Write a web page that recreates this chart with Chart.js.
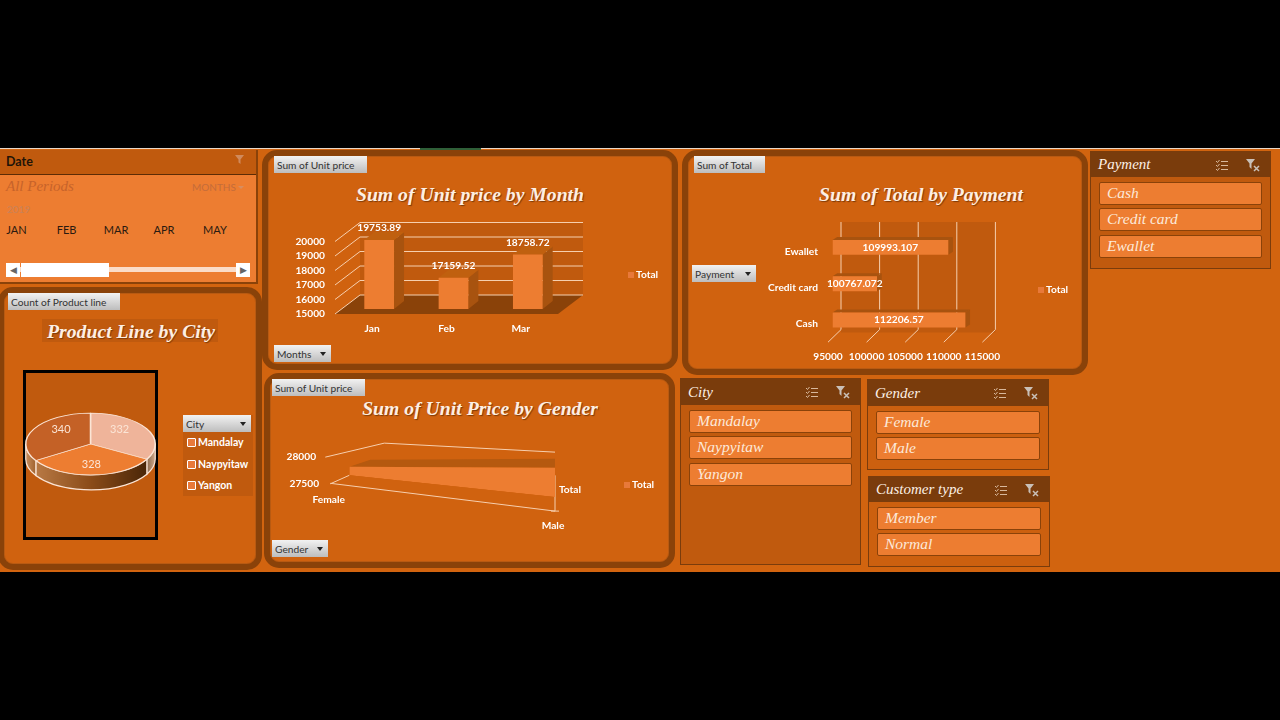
<!DOCTYPE html>
<html>
<head>
<meta charset="utf-8">
<title>Sales dashboard</title>
<script src="https://cdn.jsdelivr.net/npm/chart.js@4"></script>
<style>
html, body { margin: 0; background: #000; }
#sheet { position: absolute; left: 0; top: 0; width: 1280px; height: 720px; background: #000; overflow: hidden; font-family: Lato, sans-serif; }
#zone { position: absolute; left: 0; top: 148px; width: 1280px; height: 424px; background: #D2640F; border-top: 1px solid #e9d8c8; box-sizing: border-box; }
#tab { position: absolute; left: 420px; top: 148px; width: 61px; height: 2px; background: #2f5f38; }
.abs { position: absolute; box-sizing: border-box; }
.panel { position: absolute; box-sizing: border-box; border: 6px solid #8A4209; border-radius: 15px; background: #D0620F; box-shadow: inset 0 0 0 1px #B85A12; }
canvas { position: absolute; }
.btn { position: absolute; box-sizing: border-box; height: 17px; background: linear-gradient(#f2f2f2, #bdbdbd); color: #333; font: 10.2px/18px Lato, sans-serif; padding-left: 3px; white-space: nowrap; }
.btn i { position: absolute; right: 5px; top: 7px; border: 3.5px solid transparent; border-top: 4px solid #222; border-bottom: 0; }
.title { position: absolute; transform: translate(-50%, -50%); font: italic bold 19.7px "Liberation Serif", serif; color: #FDEFE3; white-space: nowrap; text-shadow: 1px 1px 1px #7d3a08; }
.slicer { position: absolute; box-sizing: border-box; border: 1px solid #7A3C0C; background: #C05A0E; }
.slicer .head { position: absolute; left: 0; right: 0; top: 0; background: #7A3C0C; color: #FDF1E6; font: italic 15px "Liberation Serif", serif; padding-left: 7px; }
.slicer .item { position: absolute; box-sizing: border-box; background: #ED7D31; border: 1px solid #8A4209; border-radius: 2px; color: #FCE9DA; font: italic 15.5px "Liberation Serif", serif; padding-left: 7px; }
.slicer svg { position: absolute; top: 6px; }
.legendRow { position: absolute; left: 187px; color: #fff; font: bold 10.5px Lato, sans-serif; white-space: nowrap; }
.legendRow b { display: inline-block; width: 7px; height: 7px; background: #E8793A; border: 1.5px solid #fff; border-radius: 1px; margin-right: 2px; vertical-align: -1px; }
.monthCol { position: absolute; top: 223px; transform: translateX(-50%); color: #2a1a10; font: 11px Lato, sans-serif; }
</style>
</head>
<body>
<div id="sheet">
  <div id="zone"></div>
  <div id="tab"></div>

  <!-- date timeline -->
  <div class="abs" style="left:0;top:150px;width:258px;height:134px;background:#ED7D31;border-right:2px solid #8A4209;border-bottom:2px solid #8A4209">
    <div class="abs" style="left:0;top:0;width:256px;height:25px;background:#C05A0E;border-bottom:1px solid #5c2c06"></div>
    <div class="abs" style="left:6px;top:4px;font:bold 12.5px Lato,sans-serif;color:#1f1408">Date</div>
    <svg class="abs" style="left:233px;top:3px" width="14" height="14" viewBox="0 0 14 14"><path d="M2 2h9L7.5 6.5V11L5.5 9.5V6.5z" fill="#d08a5c"/></svg>
    <div class="abs" style="left:6px;top:28px;font:italic 15px 'Liberation Serif',serif;color:#C7632A">All Periods</div>
    <div class="abs" style="left:192px;top:31px;font:10px Lato,sans-serif;color:#C46C3A">MONTHS</div>
    <div class="abs" style="left:238px;top:36px;border:3px solid transparent;border-top:3px solid #d88d5f;border-bottom:0"></div>
    <div class="abs" style="left:7px;top:53px;font:10px Lato,sans-serif;color:#C98258">2019</div>
    <div class="abs" style="left:6px;top:117px;width:244px;height:5px;background:#FBDCC8"></div>
    <div class="abs" style="left:6px;top:113px;width:14px;height:14px;background:#fff;color:#666;font:9px/14px Lato;text-align:center">&#9664;</div>
    <div class="abs" style="left:21px;top:113px;width:88px;height:14px;background:#fff"></div>
    <div class="abs" style="left:236px;top:113px;width:14px;height:14px;background:#fff;color:#666;font:9px/14px Lato;text-align:center">&#9654;</div>
  </div>
  <div id="monthCols"></div>

  <!-- pivot chart frames -->
  <div class="panel" style="left:-2px;top:287px;width:264px;height:283px"></div>
  <div class="panel" style="left:262px;top:150px;width:416px;height:220px"></div>
  <div class="panel" style="left:264px;top:373px;width:411px;height:195px"></div>
  <div class="panel" style="left:682px;top:150px;width:406px;height:225px"></div>

  <!-- field buttons -->
  <div class="btn" style="left:8px;top:293px;width:112px">Count of Product line</div>
  <div class="btn" style="left:274px;top:156px;width:93px">Sum of Unit price</div>
  <div class="btn" style="left:274px;top:345px;width:57px">Months<i></i></div>
  <div class="btn" style="left:272px;top:379px;width:93px">Sum of Unit price</div>
  <div class="btn" style="left:272px;top:540px;width:56px">Gender<i></i></div>
  <div class="btn" style="left:694px;top:156px;width:71px">Sum of Total</div>
  <div class="btn" style="left:692px;top:265px;width:64px">Payment<i></i></div>

  <!-- chart headings -->
  <div class="abs" style="left:42px;top:319px;width:176px;height:23px;background:#C05A0E"></div>
  <div class="title" style="left:131px;top:331px">Product Line by City</div>
  <div class="title" style="left:470px;top:194px">Sum of Unit price by Month</div>
  <div class="title" style="left:480px;top:408px">Sum of Unit Price by Gender</div>
  <div class="title" style="left:921px;top:194px">Sum of Total by Payment</div>

  <!-- pie frame and city filter -->
  <div class="abs" style="left:23px;top:370px;width:135px;height:170px;background:#C05A0E;border:3px solid #000"></div>
  <div class="abs" style="left:183px;top:415px;width:70px;height:81px;background:#C05A0E"></div>
  <div class="btn" style="left:183px;top:415px;width:68px">City<i></i></div>
  <div id="cityRows"></div>

  <canvas id="pieChart" width="135" height="170" style="left:23px;top:370px"></canvas>
  <canvas id="monthChart" width="400" height="150" style="left:270px;top:200px"></canvas>
  <canvas id="genderChart" width="400" height="110" style="left:268px;top:430px"></canvas>
  <canvas id="paymentChart" width="390" height="155" style="left:690px;top:215px"></canvas>

  <div id="slicers"></div>
</div>

<script>
// values behind the charts
var months = ['Jan', 'Feb', 'Mar'];
var monthTotals = [19753.89, 17159.52, 18758.72];
var payments = ['Ewallet', 'Credit card', 'Cash'];
var paymentTotals = [109993.107, 100767.072, 112206.57];
var genders = ['Female', 'Male'];
var genderTotals = [27650, 28022];
var genderTicks = [27500, 28000];
var cities = ['Mandalay', 'Naypyitaw', 'Yangon'];
var cityCounts = [332, 328, 340];
var periodMonths = ['JAN', 'FEB', 'MAR', 'APR', 'MAY'];
var customerTypes = ['Member', 'Normal'];

var ORANGE = '#ED7D31', SHADE = '#A8530F', WALL = '#C05A0E', FLOOR = '#8A4209', LINE = '#F6CFAF';
var LABEL_FONT = 'bold 10.2px Lato, sans-serif';
var TICK_FONT = { family: 'Lato', weight: 'bold', size: 10.2 };
var plainGrid = { display: false, drawTicks: false };

function plainNumber(v) { return String(v); }

// small square + name, the way the pivot charts show their single series
function drawKey(chart, x, y) {
    var ctx = chart.ctx;
    ctx.save();
    ctx.fillStyle = '#E8793A';
    ctx.fillRect(x, y - 3, 6, 6);
    ctx.fillStyle = '#fff';
    ctx.font = LABEL_FONT;
    ctx.textAlign = 'left';
    ctx.textBaseline = 'middle';
    ctx.fillText(chart.data.datasets[0].label, x + 8, y);
    ctx.restore();
}

function stroke(ctx, pts) {
    ctx.beginPath();
    pts.forEach(function(p, i) { i ? ctx.lineTo(p[0], p[1]) : ctx.moveTo(p[0], p[1]); });
    ctx.stroke();
}

function poly(ctx, pts, color) {
    ctx.fillStyle = color;
    ctx.beginPath();
    pts.forEach(function(p, i) { i ? ctx.lineTo(p[0], p[1]) : ctx.moveTo(p[0], p[1]); });
    ctx.closePath();
    ctx.fill();
}

function valueText(ctx, text, x, y) {
    ctx.save();
    ctx.fillStyle = '#fff';
    ctx.font = LABEL_FONT;
    ctx.textAlign = 'center';
    ctx.textBaseline = 'middle';
    ctx.fillText(text, x, y);
    ctx.restore();
}

Chart.defaults.animation = false;
Chart.defaults.responsive = false;
Chart.defaults.plugins.legend.display = false;
Chart.defaults.plugins.tooltip.enabled = false;

// ---- columns by month: floor, back wall and column sides around the bar elements
var monthDepth = {
    id: 'monthDepth',
    beforeDatasetsDraw: function(chart) {
        var ctx = chart.ctx, a = chart.chartArea, y = chart.scales.y;
        var bx = 25, by = -19;
        ctx.save();
        poly(ctx, [[a.left + bx, a.top + by], [a.right + bx, a.top + by], [a.right + bx, a.bottom + by], [a.left + bx, a.bottom + by]], WALL);
        poly(ctx, [[a.left, a.bottom], [a.right, a.bottom], [a.right + bx, a.bottom + by], [a.left + bx, a.bottom + by]], FLOOR);
        ctx.strokeStyle = LINE;
        ctx.lineWidth = 1;
        y.ticks.forEach(function(t) {
            var py = y.getPixelForValue(t.value);
            stroke(ctx, [[a.left, py], [a.left + bx, py + by], [a.right + bx, py + by]]);
        });
        chart.getDatasetMeta(0).data.forEach(function(bar) {
            var l = bar.x - bar.width / 2 + 7, r = bar.x + bar.width / 2 + 7, t = bar.y - 5, b = bar.base - 5;
            poly(ctx, [[r, t], [r + 10, t - 8], [r + 10, b - 8], [r, b]], SHADE);
            poly(ctx, [[l, t], [r, t], [r + 10, t - 8], [l + 10, t - 8]], '#C0600F');
        });
        ctx.restore();
    },
    beforeDatasetDraw: function(chart) {
        chart.ctx.save();
        chart.ctx.translate(7, -5);
    },
    afterDatasetDraw: function(chart) {
        chart.ctx.restore();
    },
    afterDatasetsDraw: function(chart) {
        chart.getDatasetMeta(0).data.forEach(function(bar, i) {
            valueText(chart.ctx, monthTotals[i], bar.x + 7, bar.y - 17);
        });
        drawKey(chart, 358, 75);
    }
};

new Chart(document.getElementById('monthChart'), {
    type: 'bar',
    data: { labels: months, datasets: [{ label: 'Total', data: monthTotals, backgroundColor: ORANGE, barPercentage: 0.4, categoryPercentage: 1, base: 15000 }] },
    plugins: [monthDepth],
    options: {
        layout: { padding: { left: 0, right: 112, top: 41.5, bottom: 0 } },
        scales: {
            y: {
                min: 15000, max: 20000,
                afterFit: function(s) { s.width = 65; },
                grid: plainGrid, border: { display: false },
                ticks: { stepSize: 1000, autoSkip: false, callback: plainNumber, color: '#fff', padding: 10, font: TICK_FONT }
            },
            x: {
                afterFit: function(s) { s.height = 36; },
                grid: plainGrid, border: { display: false },
                ticks: { color: '#fff', padding: 9, font: TICK_FONT }
            }
        }
    }
});

// ---- bars by payment type
var paymentDepth = {
    id: 'paymentDepth',
    beforeDatasetsDraw: function(chart) {
        var ctx = chart.ctx, a = chart.chartArea, x = chart.scales.x;
        var bx = 13, by = -12.6;
        ctx.save();
        poly(ctx, [[a.left + bx, a.top + by + 1.4], [a.right + bx, a.top + by + 1.4], [a.right + bx, a.bottom + by + 3], [a.left + bx, a.bottom + by + 3]], WALL);
        ctx.strokeStyle = LINE;
        ctx.lineWidth = 1;
        x.ticks.forEach(function(t) {
            var px = x.getPixelForValue(t.value);
            stroke(ctx, [[px, a.bottom], [px + bx, a.bottom + by], [px + bx, a.top + by + 1.4]]);
        });
        chart.getDatasetMeta(0).data.forEach(function(bar) {
            var r = bar.x + 4.5, t = bar.y - bar.height / 2 - 4, b = bar.y + bar.height / 2 - 4, l = bar.base + 4.5;
            poly(ctx, [[r, t], [r + 4.7, t - 3], [r + 4.7, b - 3], [r, b]], SHADE);
            poly(ctx, [[l, t], [r, t], [r + 4.7, t - 3], [l + 4.7, t - 3]], SHADE);
        });
        ctx.restore();
    },
    beforeDatasetDraw: function(chart) {
        chart.ctx.save();
        chart.ctx.translate(4.5, -4);
    },
    afterDatasetDraw: function(chart) {
        chart.ctx.restore();
    },
    afterDatasetsDraw: function(chart) {
        chart.getDatasetMeta(0).data.forEach(function(bar, i) {
            valueText(chart.ctx, paymentTotals[i], (bar.base + bar.x) / 2 + 4.5, bar.y - 4);
        });
        drawKey(chart, 348, 75);
    }
};

new Chart(document.getElementById('paymentChart'), {
    type: 'bar',
    data: { labels: payments, datasets: [{ label: 'Total', data: paymentTotals, backgroundColor: ORANGE, barPercentage: 0.41, categoryPercentage: 1, base: 95000 }] },
    plugins: [paymentDepth],
    options: {
        indexAxis: 'y',
        layout: { padding: { left: 0, right: 97.6, top: 18.2, bottom: 0 } },
        scales: {
            x: {
                min: 95000, max: 115000,
                afterFit: function(s) { s.height = 27.8; },
                grid: plainGrid, border: { display: false },
                ticks: { stepSize: 5000, autoSkip: false, maxRotation: 0, callback: plainNumber, color: '#fff', padding: 8, font: TICK_FONT }
            },
            y: {
                afterFit: function(s) { s.width = 138; },
                grid: plainGrid, border: { display: false },
                ticks: { color: '#fff', padding: 10, font: TICK_FONT }
            }
        }
    }
});

// ---- gender wedge: a filled line whose plane is sheared to lie on the sloping floor
var GENDER_SLOPE = 0.106;
function shearY(chart, px, py) {
    return py + GENDER_SLOPE * (px - chart.chartArea.left);
}

var genderDepth = {
    id: 'genderDepth',
    beforeDatasetsDraw: function(chart) {
        var ctx = chart.ctx, a = chart.chartArea, y = chart.scales.y;
        var hi = y.getPixelForValue(genderTicks[1]), lo = y.getPixelForValue(genderTicks[0]);
        var pts = chart.getDatasetMeta(0).data;
        var y0 = shearY(chart, pts[0].x, pts[0].y), y1 = shearY(chart, pts[1].x, pts[1].y);
        ctx.save();
        ctx.strokeStyle = LINE;
        ctx.lineWidth = 1;
        // upper and lower frame lines of the plot box
        stroke(ctx, [[a.left - 24, hi + 10], [a.left + 35, hi - 4], [a.right, hi + 5]]);
        stroke(ctx, [[a.left - 19, lo + 8.5], [a.left, lo]]);
        stroke(ctx, [[a.left - 19, lo + 8], [a.right, shearY(chart, a.right, lo) + 14], [a.right, lo]]);
        stroke(ctx, [[a.right - 4, shearY(chart, a.right, lo) + 14], [a.right + 4, shearY(chart, a.right, lo) + 14]]);
        // top face of the wedge
        poly(ctx, [[pts[0].x, y0], [pts[1].x, y1], [pts[1].x, y1 - 9], [pts[0].x + 21, y0 - 7]], '#B5590F');
        ctx.restore();

        ctx.save();
        ctx.transform(1, GENDER_SLOPE, 0, 1, 0, -GENDER_SLOPE * a.left);
    },
    afterDatasetsDraw: function(chart) {
        var ctx = chart.ctx, a = chart.chartArea, x = chart.scales.x, y = chart.scales.y;
        ctx.restore();
        // axis text sits off the box in this view, so it is placed from the scales by hand
        genderTicks.forEach(function(t, i) {
            var py = y.getPixelForValue(t);
            valueText(ctx, t, a.left - 48 + (i ? 0 : 3), py + (i ? 10 : 8));
        });
        genders.forEach(function(g, i) {
            var px = x.getPixelForValue(i), base = shearY(chart, px, y.getPixelForValue(genderTicks[0]));
            valueText(ctx, g, i ? px - 2 : px - 20.6, base + (i ? 28.7 : 24));
        });
        valueText(ctx, chart.data.datasets[0].label, a.right + 15, 60);
        drawKey(chart, 356, 55);
    }
};

new Chart(document.getElementById('genderChart'), {
    type: 'line',
    data: { labels: genders, datasets: [{ label: 'Total', data: genderTotals, backgroundColor: ORANGE, borderWidth: 0, pointRadius: 0, tension: 0, fill: 'start', clip: false }] },
    plugins: [genderDepth],
    options: {
        layout: { padding: { left: 81.3, right: 113, top: 11.5, bottom: 64.7 } },
        scales: {
            x: { display: false },
            y: { display: false, min: 27500, max: 28100 }
        }
    }
});

// ---- city pie: squashed arc elements on top of a drawn rim
var RIM = 15, SQUASH = 31 / 65;
var rimStops = [
    ['#8a6a50', '#d0a888'],
    ['#B87944', '#8A4B18', '#4A2608'],
    ['#C88F5F', '#A0622E']
];

var pieTilt = {
    id: 'pieTilt',
    beforeDatasetsDraw: function(chart) {
        var ctx = chart.ctx, arcs = chart.getDatasetMeta(0).data;
        var cx = arcs[0].x, cy = arcs[0].y, rx = arcs[0].outerRadius, ry = rx * SQUASH;
        ctx.save();
        ctx.strokeStyle = '#FBE5D6';
        ctx.lineWidth = 1.2;
        arcs.forEach(function(arc, i) {
            var s = Math.max(arc.startAngle, 0), e = Math.min(arc.endAngle, Math.PI);
            if (s >= e) return;
            var x1 = cx + rx * Math.cos(s), x2 = cx + rx * Math.cos(e);
            var g = ctx.createLinearGradient(Math.min(x1, x2), 0, Math.max(x1, x2), 0);
            rimStops[i].forEach(function(c, k) { g.addColorStop(k / (rimStops[i].length - 1), c); });
            ctx.fillStyle = g;
            ctx.beginPath();
            ctx.ellipse(cx, cy, rx, ry, 0, s, e, false);
            ctx.ellipse(cx, cy + RIM, rx, ry, 0, e, s, true);
            ctx.closePath();
            ctx.fill();
            ctx.stroke();
        });
        ctx.restore();
        ctx.save();
        ctx.translate(cx, cy);
        ctx.scale(1, SQUASH);
        ctx.translate(-cx, -cy);
    },
    afterDatasetsDraw: function(chart) {
        var ctx = chart.ctx, arcs = chart.getDatasetMeta(0).data;
        ctx.restore();
        ctx.save();
        ctx.fillStyle = '#FBE5D6';
        ctx.font = '11px Lato, sans-serif';
        ctx.textAlign = 'center';
        ctx.textBaseline = 'middle';
        arcs.forEach(function(arc, i) {
            var mid = (arc.startAngle + arc.endAngle) / 2, r = arc.outerRadius;
            ctx.fillText(cityCounts[i], arc.x + r * 0.52 * Math.cos(mid), arc.y - 3 + r * SQUASH * 0.76 * Math.sin(mid));
        });
        ctx.restore();
    }
};

new Chart(document.getElementById('pieChart'), {
    type: 'pie',
    data: { labels: cities, datasets: [{ data: cityCounts, backgroundColor: ['#EFB49A', ORANGE, '#C46126'], borderColor: '#FBE5D6', borderWidth: 1.5 }] },
    plugins: [pieTilt],
    options: { layout: { padding: { left: 2, right: 2, top: 8.5, bottom: 30.5 } } }
});

// ---- plain page furniture built from the same lists
var cityRows = document.getElementById('cityRows');
cities.forEach(function(c, i) {
    var row = document.createElement('div');
    row.className = 'legendRow';
    row.style.top = (436 + i * 21.5) + 'px';
    row.innerHTML = '<b></b>' + c;
    cityRows.appendChild(row);
});

var colX = [16.5, 66.5, 116, 164, 215];
periodMonths.forEach(function(m, i) {
    var el = document.createElement('div');
    el.className = 'monthCol';
    el.style.left = colX[i] + 'px';
    el.textContent = m;
    document.getElementById('monthCols').appendChild(el);
});

function slicer(title, items, x, y, w, h, head, top0, opts) {
    var box = document.createElement('div');
    box.className = 'slicer';
    box.style.cssText = 'left:' + x + 'px;top:' + y + 'px;width:' + w + 'px;height:' + h + 'px;' + (opts || '');
    box.innerHTML = '<div class="head" style="height:' + head + 'px;line-height:' + head + 'px">' + title + '</div>' +
        '<svg style="left:' + (w - 57) + 'px" width="14" height="14" viewBox="0 0 14 14" fill="none" stroke="#d8b89c"><path d="M1 3l1.5 1.5L4.5 2M1 7l1.5 1.5L4.5 6M1 11l1.5 1.5L4.5 10M6 3.5h7M6 7.5h7M6 11.5h7"/></svg>' +
        '<svg style="left:' + (w - 27) + 'px" width="16" height="14" viewBox="0 0 16 14"><path d="M1 1h9L6.5 5.5V11L4.5 9V5.5z" fill="#c9c0b8"/><path d="M9 8l5 5M14 8l-5 5" stroke="#c9c0b8" stroke-width="1.5"/></svg>';
    items.forEach(function(t, i) {
        var it = document.createElement('div');
        it.className = 'item';
        it.style.cssText = 'left:8px;right:8px;top:' + (top0 + i * 26.6) + 'px;height:23.3px;line-height:20px';
        it.textContent = t;
        box.appendChild(it);
    });
    document.getElementById('slicers').appendChild(box);
}

slicer('City', cities, 680, 378, 181, 187, 26, 30.5);
slicer('Gender', genders, 867, 379, 182, 91, 26, 30.5, 'background:#CC600F');
slicer('Customer type', customerTypes, 868, 476, 182, 91, 25, 29.5, 'background:#CC600F');
slicer('Payment', ['Cash', 'Credit card', 'Ewallet'], 1090, 151, 181, 118, 25, 29.5);
</script>
</body>
</html>
